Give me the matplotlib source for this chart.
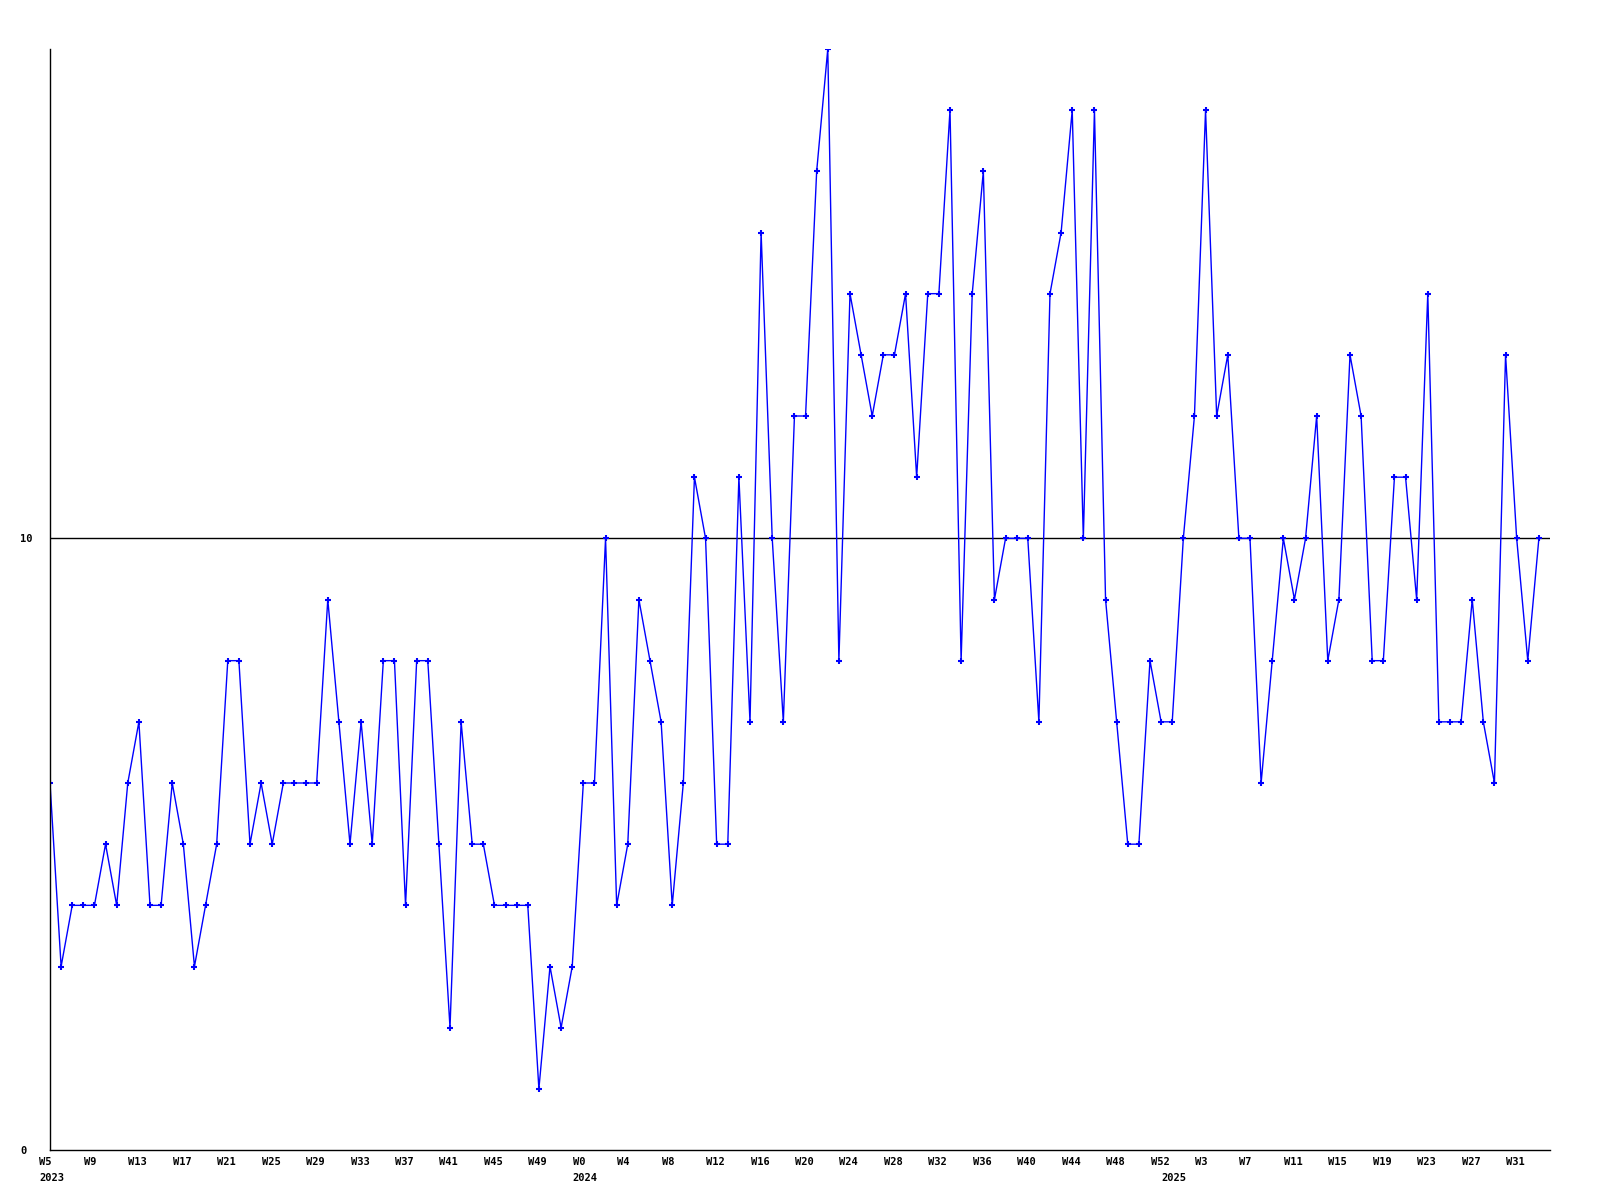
import matplotlib
matplotlib.use("Agg")
from matplotlib import pyplot as plt
import matplotlib.transforms as mtransforms

# weekly counts, one list per year
values_2023 = [6, 3, 4, 4, 4, 5, 4, 6, 7, 4, 4, 6, 5, 3, 4, 5, 8, 8, 5, 6,
               5, 6, 6, 6, 6, 9, 7, 5, 7, 5, 8, 8, 4, 8, 8, 5, 2, 7, 5, 5,
               4, 4, 4, 4, 1, 3, 2, 3]
values_2024 = [6, 6, 10, 4, 5, 9, 8, 7, 4, 6, 11, 10, 5, 5, 11, 7, 15, 10, 7, 12,
               12, 16, 18, 8, 14, 13, 12, 13, 13, 14, 11, 14, 14, 17, 8, 14, 16, 9, 10, 10,
               10, 7, 14, 15, 17, 10, 17, 9, 7, 5, 5, 8, 7]
values_2025 = [7, 10, 12, 17, 12, 13, 10, 10, 6, 8, 10, 9, 10, 12, 8, 9, 13, 12, 8, 8,
               11, 11, 9, 14, 7, 7, 7, 9, 7, 6, 13, 10, 8, 10]

tick_labels = ["W5", "W9", "W13", "W17", "W21", "W25", "W29", "W33", "W37", "W41",
               "W45", "W49", "W0", "W4", "W8", "W12", "W16", "W20", "W24", "W28",
               "W32", "W36", "W40", "W44", "W48", "W52", "W3", "W7", "W11", "W15",
               "W19", "W23", "W27", "W31"]
years = ["2023", "2024", "2025"]

values = values_2023 + values_2024 + values_2025
x = list(range(len(values)))
year_starts = [0, len(values_2023), len(values_2023) + len(values_2024)]

font = {"family": "DejaVu Sans Mono", "weight": "bold", "size": 7.5}

fig = plt.figure(figsize=(16, 12), dpi=100)
ax = fig.add_axes([50 / 1600, 50 / 1200, 1500 / 1600, 1101 / 1200])

ax.axhline(10, color="black", linewidth=1, zorder=1)
ax.plot(x, values, color="#0000ff", linewidth=1, marker="+", markersize=4,
        markeredgewidth=1.5, zorder=2)

ax.set_xlim(0, len(values))
ax.set_ylim(0, 18)
for side in ["top", "right"]:
    ax.spines[side].set_visible(False)
for side in ["left", "bottom"]:
    ax.spines[side].set_linewidth(1)
    ax.spines[side].set_color("black")

ax.set_xticks([])
ax.set_yticks([0, 10])
ax.set_yticklabels(["0", "10"], fontdict=font, ha="left")
ax.tick_params(axis="y", length=0, pad=21.5)

# week labels start one week left of their point, like the original tool
trans = mtransforms.blended_transform_factory(ax.transData, ax.transAxes)
for pos, label in zip(x[::4], tick_labels):
    ax.text(pos - 0.95, -0.0065, label, transform=trans, ha="left", va="top",
            clip_on=False, **font)
for start, year in zip(year_starts, years):
    ax.text(start - 0.95, -0.021, year, transform=trans, ha="left", va="top",
            clip_on=False, **font)

fig.savefig("out.png", dpi=100)
plt.close()
